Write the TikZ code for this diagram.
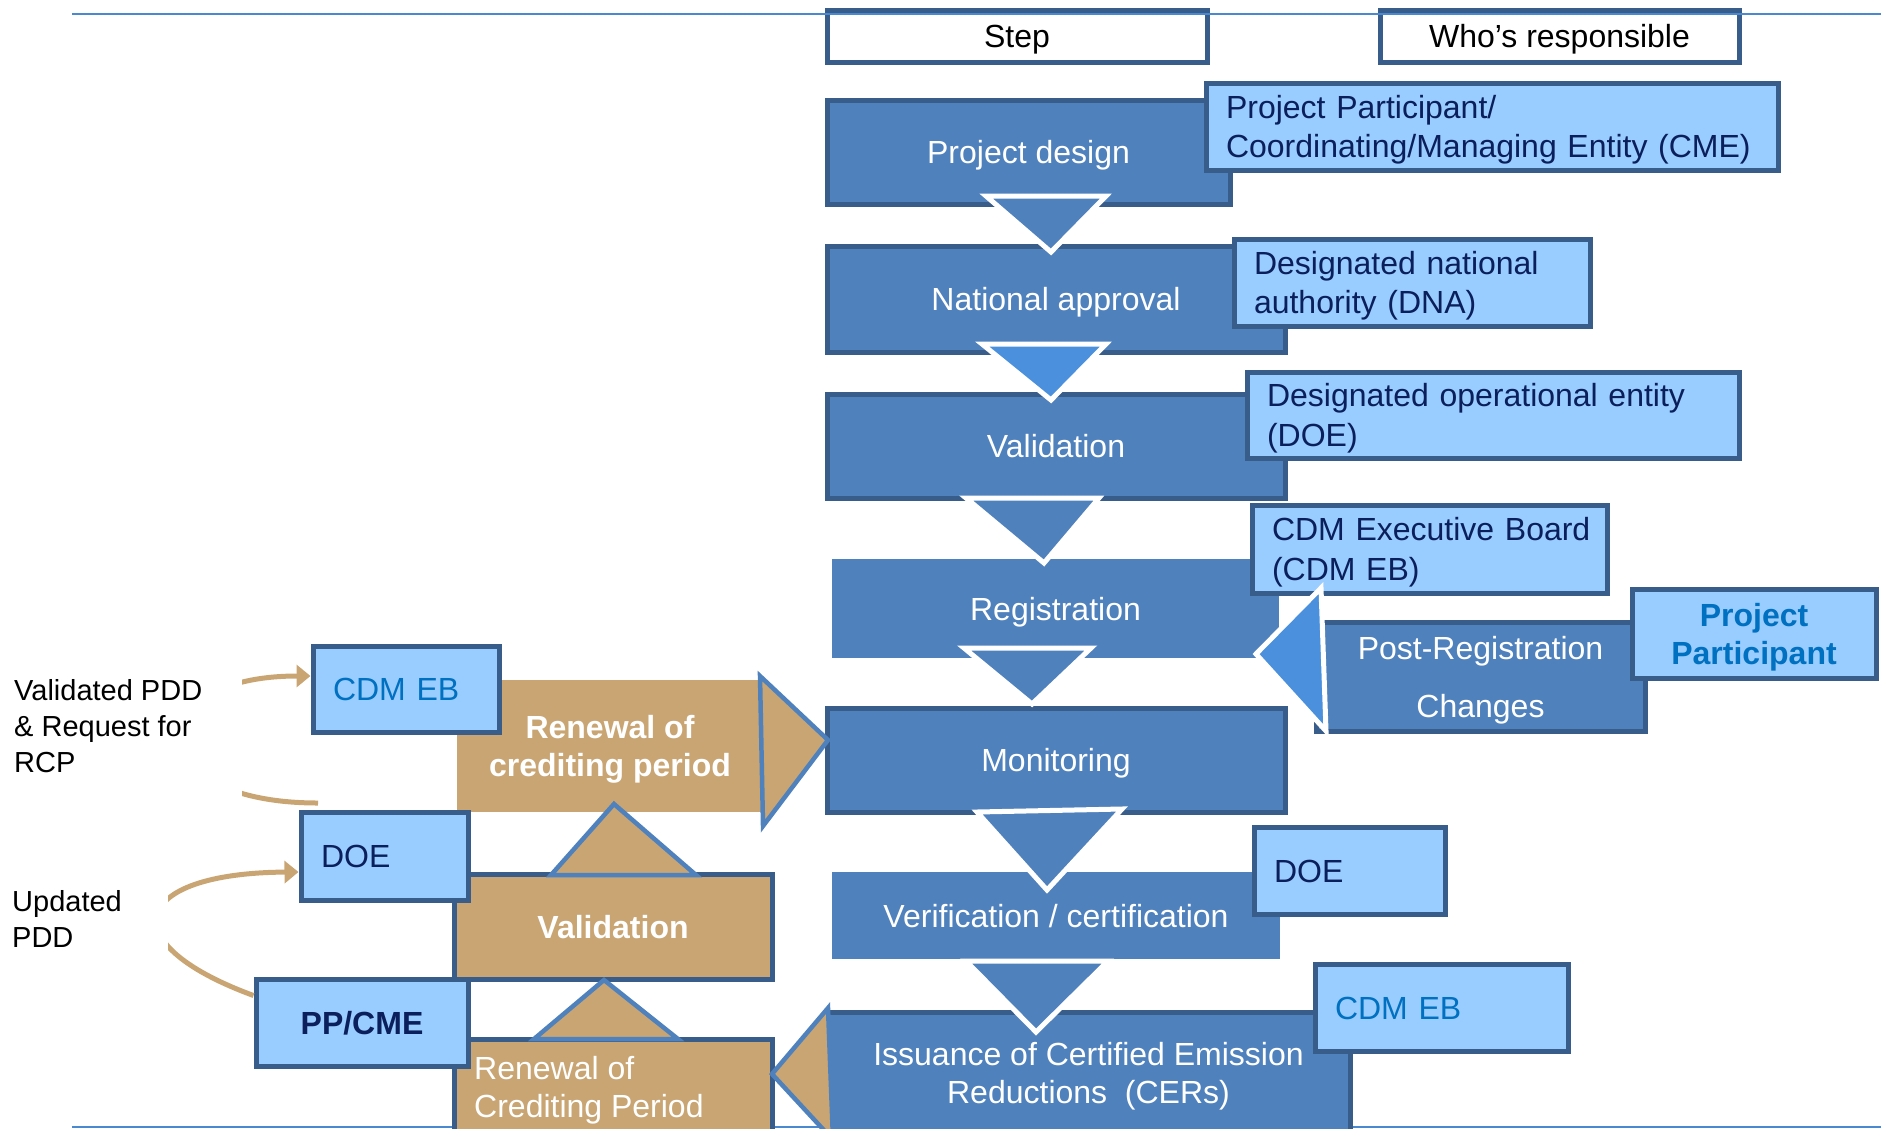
\documentclass[tikz,border=0pt]{standalone}
\usepackage{fontspec}
\setmainfont{Liberation Sans}
\usetikzlibrary{arrows.meta}
\definecolor{mainblue}{HTML}{4F81BD}
\definecolor{boxborder}{HTML}{385D8A}
\definecolor{lightlbl}{HTML}{99CCFF}
\definecolor{brightblue}{HTML}{4A90DC}
\definecolor{tanfill}{HTML}{C9A573}
\definecolor{navytext}{HTML}{0A1F5C}
\definecolor{cdmblue}{HTML}{0070C0}
\definecolor{rule}{HTML}{4A88D0}
\begin{document}
\begin{tikzpicture}[x=1pt,y=-1pt,
  sz/.style 2 args={minimum width=#1, minimum height=#2},
  fnt/.style={font=\fontsize{32}{39.5}\selectfont},
  hdr/.style={draw=boxborder, line width=5pt, fill=white, inner sep=0pt, fnt, text=black, text depth=0pt},
  mainbox/.style={draw=boxborder, line width=5pt, fill=mainblue, inner sep=0pt, fnt, text=white, align=center, text depth=0pt},
  flatbox/.style={fill=mainblue, inner sep=0pt, fnt, text=white, align=center, text depth=0pt},
  lbl/.style={draw=boxborder, line width=5pt, fill=lightlbl, inner xsep=20pt, inner ysep=0pt, fnt, text=navytext, align=left, text height=23pt, text depth=0pt},
  twoline/.style={text depth=39.5pt},
  tanbox/.style={draw=boxborder, line width=5pt, fill=tanfill, inner sep=0pt, fnt, text=white, align=center, text depth=0pt},
  tri/.style={fill=mainblue, draw=white, line width=5pt, line join=miter},
  tritan/.style={fill=tanfill, draw=mainblue, line width=4.5pt, line join=miter},
  sidetext/.style={font=\fontsize{29}{36}\selectfont, align=left, inner sep=0pt, anchor=west, text=black},
  tanarrow/.style={draw=tanfill, line width=5pt, -{Triangle[length=14pt,width=22pt]}}
]
\useasboundingbox (0,0) rectangle (1881,1128);
% rules
\draw[rule, line width=2.5pt] (72,1127) -- (1881,1127);
% headers
\node[hdr, sz={380pt}{52pt}] (stephdr) at (1017,36) {Step};
\node[hdr, sz={359pt}{52pt}] (whohdr) at (1559.5,36) {Who’s responsible};
\draw[rule, line width=2.5pt] (72,14) -- (1881,14);

% main column
\node[mainbox, sz={403pt}{104pt}] (design) at (1028.5,152) {Project design};
\node[lbl, twoline, sz={572pt}{87pt}, text width=532pt] (ppcmeT) at (1492,126.5) {Project Participant/\\Coordinating/Managing Entity (CME)};
\node[mainbox, sz={458pt}{106pt}] (natapp) at (1056,299) {National approval};
\draw[tri] (986,196) -- (1106,196) -- (1051,252) -- cycle;
\node[lbl, twoline, sz={356pt}{87pt}, text width=316pt] (dna) at (1412,282.5) {Designated national\\authority (DNA)};
\node[mainbox, sz={458pt}{104pt}] (valid) at (1056,446) {Validation};
\draw[tri, fill=brightblue] (982,344) -- (1106,344) -- (1051,400) -- cycle;
\node[lbl, twoline, sz={492pt}{86pt}, text width=452pt] (doeT) at (1493,415) {Designated operational entity\\(DOE)};
\node[flatbox, sz={447pt}{99pt}] (reg) at (1055.5,608.5) {Registration};
\draw[tri] (966,498) -- (1099,498) -- (1044,563) -- cycle;
\node[lbl, twoline, sz={355pt}{88pt}, text width=315pt] (cdmebT) at (1429.5,549) {\mbox{CDM Executive Board}\\(CDM EB)};
\node[mainbox, sz={458pt}{104pt}] (monit) at (1056,760) {Monitoring};
\draw[tri] (964,648) -- (1091,648) -- (1032,704) -- cycle;
\node[mainbox, sz={329pt}{109pt}, font=\fontsize{32}{58}\selectfont] (postreg) at (1480.5,676.5) {Post-Registration\\Changes};
\node[lbl, sz={244pt}{89pt}, inner xsep=0pt, text width=244pt, align=center, text=cdmblue, font=\bfseries\fontsize{32}{38}\selectfont, text depth=38pt] (ppR) at (1754,633.5) {Project\\Participant};
\draw[tri, fill=brightblue] (1256,654) -- (1321,588) -- (1326,731) -- cycle;
\node[flatbox, sz={448pt}{87pt}] (verif) at (1056,915.5) {Verification / certification};
\draw[tri] (977,812) -- (1122,809) -- (1047,890) -- cycle;
\node[lbl, sz={191pt}{87pt}, text width=151pt] (doeV) at (1349.5,870.5) {DOE};
\node[mainbox, sz={523pt}{122pt}, font=\fontsize{32}{38}\selectfont] (issue) at (1088.5,1073) {Issuance of Certified Emission\\Reductions\ \ (CERs)};
\draw[tri] (966,961) -- (1108,961) -- (1036,1032) -- cycle;
\node[lbl, sz={253pt}{87pt}, text width=213pt, text=cdmblue] (cdmebI) at (1441.5,1007.5) {CDM EB};

% left side
\node[tanbox, draw=none, sz={306pt}{132pt}, font=\bfseries\fontsize{32}{38}\selectfont] (renew) at (610,746) {Renewal of\\crediting period};
\node[lbl, sz={186pt}{86pt}, text width=146pt, text=cdmblue] (cdmebL) at (406,689) {CDM EB};
\draw[tritan] (760,676) -- (828,740) -- (763,826) -- cycle;
\node[tanbox, sz={318pt}{105pt}, font=\bfseries\fontsize{32}{38}\selectfont] (validT) at (613,926.5) {Validation};
\draw[tritan] (551,875) -- (696,875) -- (614,804) -- cycle;
\node[lbl, sz={167pt}{88pt}, text width=127pt] (doeL) at (384.5,856) {DOE};
\node[tanbox, sz={318pt}{101pt}] (renewB) at (613,1089.5) {};
\node[font=\fontsize{32}{38}\selectfont, text=white, align=left, inner sep=0pt, anchor=west] (renewBtxt) at (474,1090) {Renewal of\\Crediting Period};
\draw[tritan] (534,1039) -- (678,1039) -- (604,980) -- cycle;
\node[lbl, sz={212pt}{87pt}, inner xsep=0pt, text width=212pt, align=center, font=\bfseries\fontsize{32}{38}\selectfont] (ppcmeL) at (362,1022.5) {PP/CME};
\draw[tritan] (828,1008) -- (772,1074) -- (833,1140) -- cycle;

% side texts and curved arrows
\node[sidetext] (vpdd) at (14,726) {Validated PDD\\\& Request for\\RCP};
\node[sidetext] (updd) at (12,919) {Updated\\PDD};
\coordinate (rcpstart) at (318,803);
\begin{scope}
  \clip (242,0) rectangle (1881,1128);
  \draw[tanarrow] (rcpstart) .. controls (137,803) and (137,676) .. ([yshift=13pt]cdmebL.west);
\end{scope}
\begin{scope}
  \clip (168,0) rectangle (1881,1128);
  \draw[tanarrow] ([yshift=27pt]ppcmeL.west) .. controls (108,942) and (132,873) .. ([yshift=-16pt]doeL.west);
\end{scope}
\end{tikzpicture}
\end{document}
